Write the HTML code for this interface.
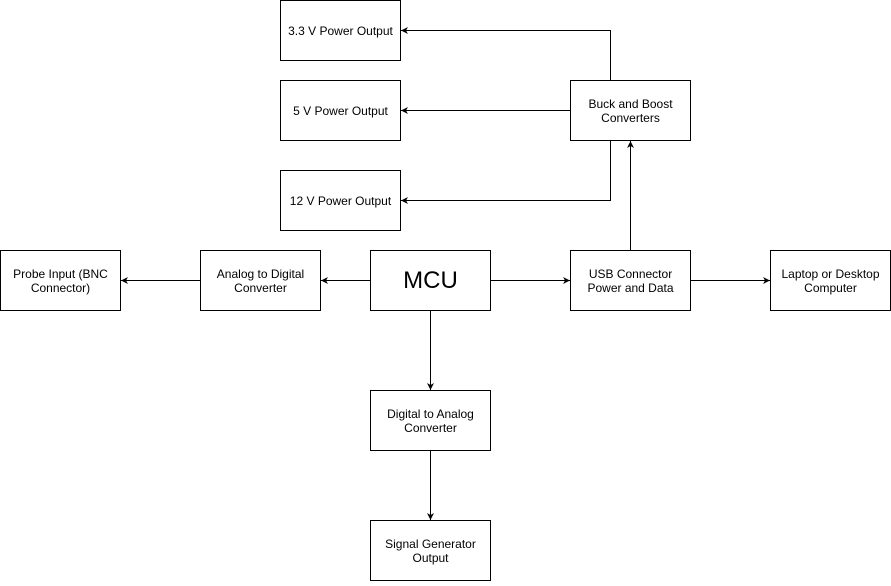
<!DOCTYPE html>
<html><head><style>
body{margin:0;background:#fff;}
svg text{font-family:"Liberation Sans",Arial,sans-serif;font-size:12px;fill:#000;}
</style></head><body>
<svg width="891" height="581" viewBox="0 0 891 581" xmlns="http://www.w3.org/2000/svg">
<defs><marker id="a" markerWidth="8" markerHeight="8" refX="7" refY="4" orient="auto" markerUnits="userSpaceOnUse"><path d="M0,0.5 L7,4 L0,7.5 L2,4 Z" fill="#000"/></marker></defs>
<g fill="#fff" stroke="#000" stroke-width="1">
<rect x="280.5" y="0.5" width="120" height="60"/>
<rect x="280.5" y="80.5" width="120" height="60"/>
<rect x="280.5" y="170.5" width="120" height="60"/>
<rect x="570.5" y="80.5" width="120" height="60"/>
<rect x="0.5" y="250.5" width="120" height="60"/>
<rect x="200.5" y="250.5" width="120" height="60"/>
<rect x="370.5" y="250.5" width="120" height="60"/>
<rect x="570.5" y="250.5" width="120" height="60"/>
<rect x="770.5" y="250.5" width="120" height="60"/>
<rect x="370.5" y="390.5" width="120" height="60"/>
<rect x="370.5" y="520.5" width="120" height="60"/>
</g>
<g stroke="#000" fill="none" stroke-width="1" marker-end="url(#a)">
<path d="M610.5 80.5 V30.5 H401"/>
<path d="M570.5 110.5 H401"/>
<path d="M610.5 140.5 V200.5 H401"/>
<path d="M630.5 250.5 V141"/>
<path d="M370.5 280.5 H321"/>
<path d="M200.5 280.5 H121"/>
<path d="M490.5 280.5 H570"/>
<path d="M690.5 280.5 H770"/>
<path d="M430.5 310.5 V390"/>
<path d="M430.5 450.5 V520"/>
</g>
<g text-anchor="middle">
<text x="340.5" y="35">3.3 V Power Output</text>
<text x="340.5" y="115">5 V Power Output</text>
<text x="340.5" y="205">12 V Power Output</text>
<text x="630.5" y="108">Buck and Boost</text><text x="630.5" y="122">Converters</text>
<text x="60.5" y="278">Probe Input (BNC</text><text x="60.5" y="292">Connector)</text>
<text x="260.5" y="278">Analog to Digital</text><text x="260.5" y="292">Converter</text>
<text x="430.5" y="288" style="font-size:24px">MCU</text>
<text x="630.5" y="278">USB Connector</text><text x="630.5" y="292">Power and Data</text>
<text x="830.5" y="278">Laptop or Desktop</text><text x="830.5" y="292">Computer</text>
<text x="430.5" y="418">Digital to Analog</text><text x="430.5" y="432">Converter</text>
<text x="430.5" y="548">Signal Generator</text><text x="430.5" y="562">Output</text>
</g>
</svg>
</body></html>
